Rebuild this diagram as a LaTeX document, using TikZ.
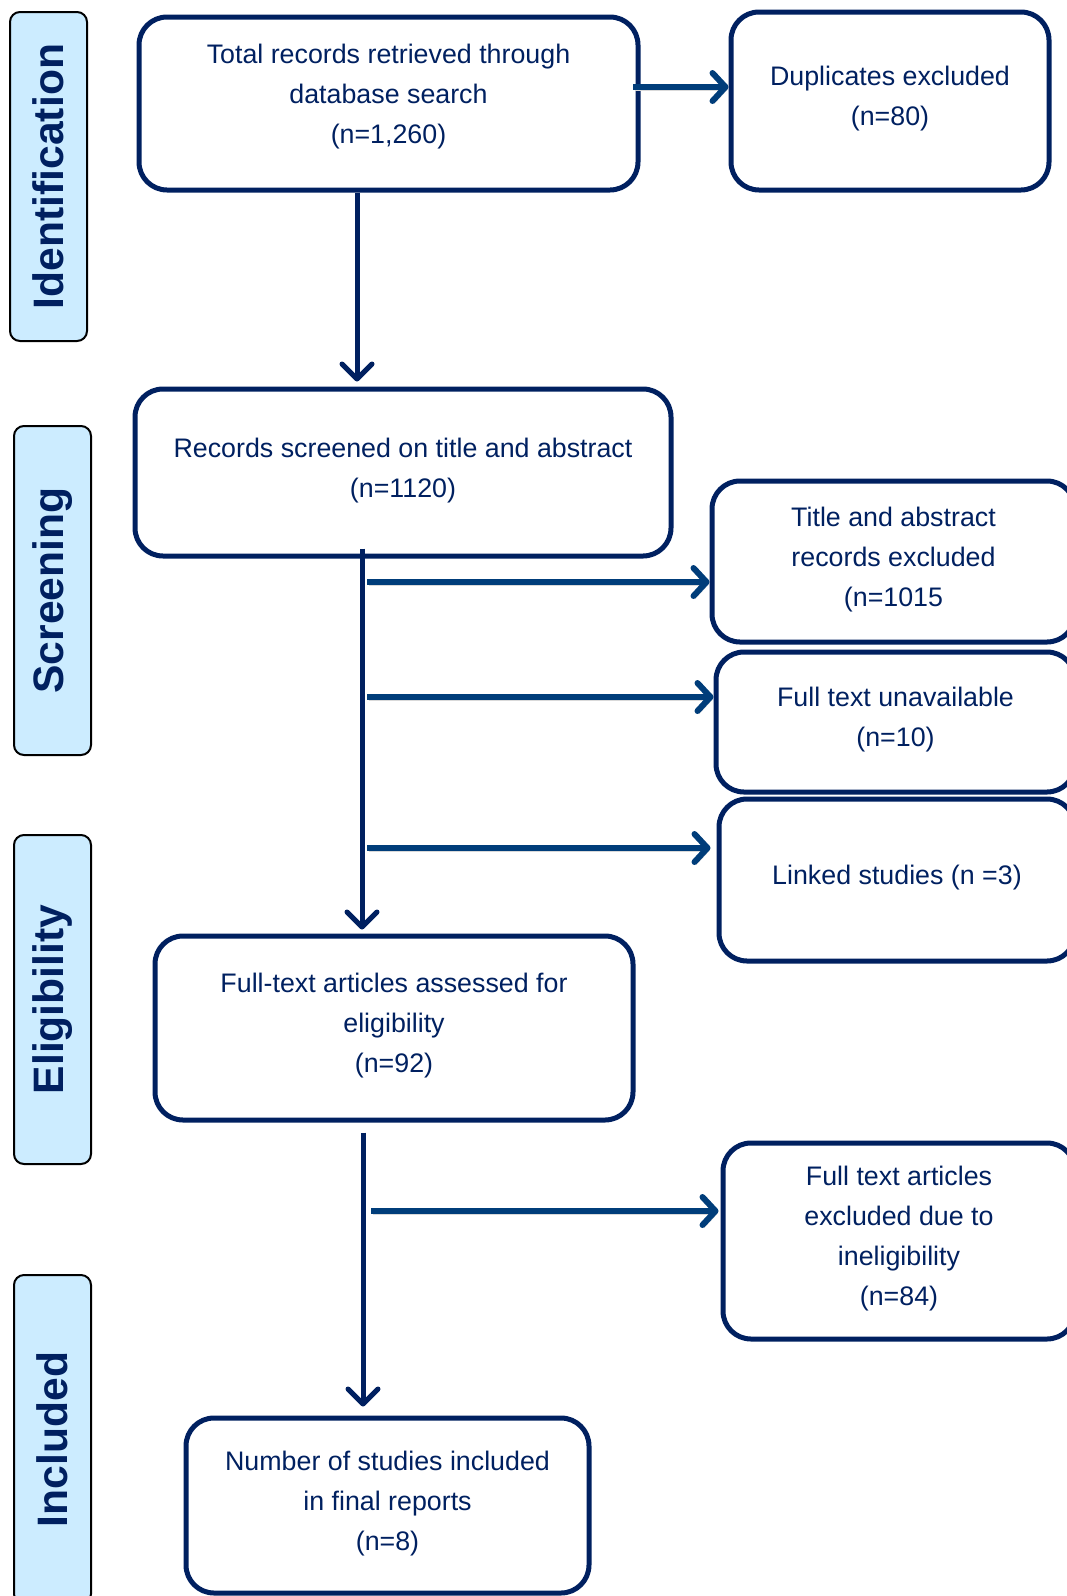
\documentclass[tikz,border=0pt]{standalone}
\usepackage{fontspec}
\setmainfont{Liberation Sans}
\usetikzlibrary{arrows.meta}

\begin{document}
\begin{tikzpicture}[x=1pt, y=-1pt,
  caja/.style={draw=azulBorde, line width=5pt, rounded corners=28pt, align=center, text=azulTexto, inner sep=0pt, text depth=9.5pt, font=\fontsize{26.8}{40}\selectfont},
  fase/.style={draw=black, line width=2pt, fill=celeste, rounded corners=10pt, rotate=90, minimum width=329pt, minimum height=77pt, text=azulTexto, font=\fontsize{42.6}{48}\selectfont\bfseries},
  baja/.style={draw=azulBorde, line width=5pt, -{Straight Barb[length=15pt, width=30pt, round]}},
  rama/.style={draw=azulFlecha, line width=6pt, -{Straight Barb[length=13pt, width=28pt, round]}, preaction={draw=black!15, transform canvas={xshift=1.5pt, yshift=-3pt}}}]

% Colores
\definecolor{azulBorde}{RGB}{0,32,96}
\definecolor{azulTexto}{RGB}{0,32,96}
\definecolor{azulFlecha}{RGB}{0,61,122}
\definecolor{celeste}{RGB}{204,236,255}

\useasboundingbox (0,0) rectangle (1066,1596);

% Fases a la izquierda
\node[fase] (ident) at (48.5,176.5) {Identification};
\node[fase] (screen) at (52.5,590.5) {Screening};
\node[fase] (elig) at (52.5,999.5) {Eligibility};
\node[fase] (incl) at (52.5,1439.5) {Included};

% Cajas principales
\node[caja, text depth=19.5pt, minimum width=499pt, minimum height=173pt] (total) at (388.5,103.5) {Total records retrieved through\\database search\\(n=1,260)};
\node[caja, minimum width=536pt, minimum height=167pt] (cribado) at (403,472.5) {Records screened on title and abstract\\(n=1120)};
\node[caja, minimum width=478pt, minimum height=184pt] (texto) at (394,1028) {Full-text articles assessed for\\eligibility\\(n=92)};
\node[caja, minimum width=403pt, minimum height=175pt] (final) at (387.5,1505.5) {Number of studies included\\in final reports\\(n=8)};

% Cajas de excluidos
\node[caja, minimum width=318pt, minimum height=178pt] (dupl) at (890,101) {Duplicates excluded\\(n=80)};
\node[caja, minimum width=363pt, minimum height=161pt] (excl1) at (893.5,561.5) {Title and abstract\\records excluded\\(n=1015};
\node[caja, minimum width=359pt, minimum height=140pt] (excl2) at (895.5,722) {Full text unavailable\\(n=10)};
\node[caja, minimum width=356pt, minimum height=162pt] (excl3) at (897,880) {Linked studies (n =3)};
\node[caja, minimum width=352pt, minimum height=196pt] (excl4) at (899,1241) {Full text articles\\excluded due to\\ineligibility\\(n=84)};

% Flechas verticales
\draw[baja, shorten >=5pt] ([xshift=-31.5pt]total.south) -- ([xshift=-31.5pt]total.south |- cribado.north);
\draw[baja, shorten >=4pt] ([xshift=-41pt, yshift=10pt]cribado.south) -- ([xshift=-41pt]cribado.south |- texto.north);
\draw[baja, shorten >=9pt] ([xshift=-31pt, yshift=-10pt]texto.south) -- ([xshift=-31pt]texto.south |- final.north);

% Ramas hacia los excluidos
\coordinate (r0) at (633,87);
\coordinate (r1) at (367,582);
\coordinate (r2) at (367,697);
\coordinate (r3) at (367,848);
\coordinate (r4) at (371,1211);
\draw[rama] (r0) -- (r0 -| dupl.west);
\draw[rama] (r1) -- (r1 -| excl1.west);
\draw[rama] (r2) -- (r2 -| excl2.west);
\draw[rama, shorten >=6pt] (r3) -- (r3 -| excl3.west);
\draw[rama, shorten >=2pt] (r4) -- (r4 -| excl4.west);

\end{tikzpicture}
\end{document}
